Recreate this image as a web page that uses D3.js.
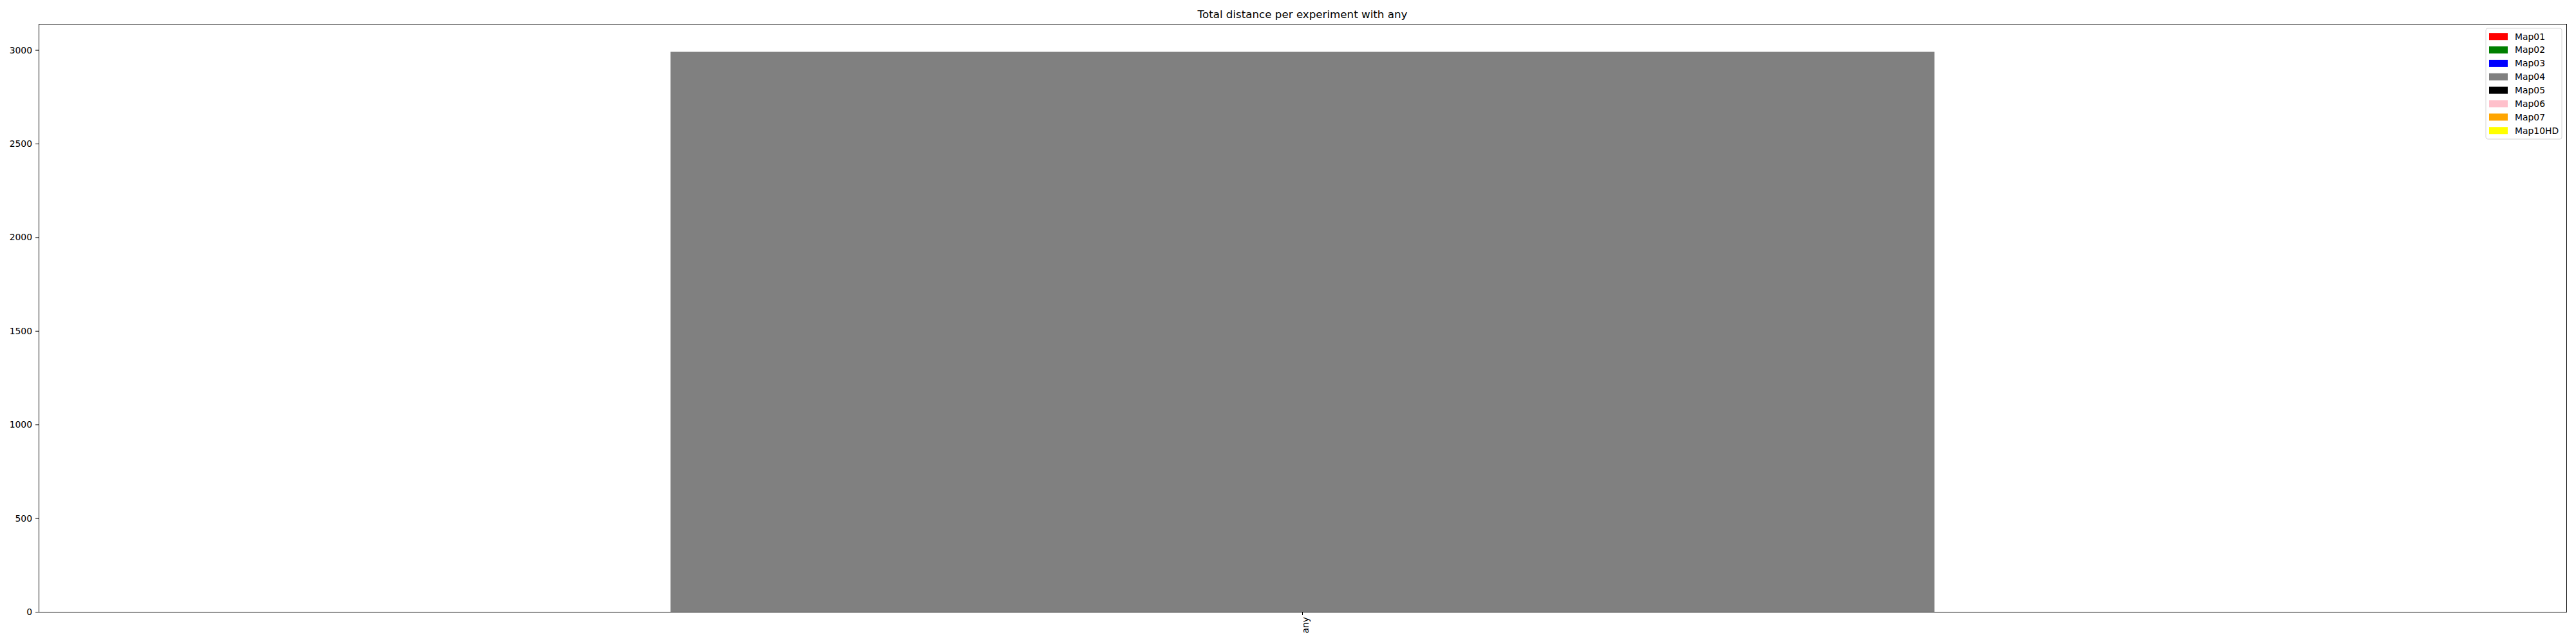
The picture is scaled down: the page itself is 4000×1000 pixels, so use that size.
<!DOCTYPE html>
<html>
<head>
<meta charset="utf-8">
<script src="https://cdn.jsdelivr.net/npm/d3@7"></script>
<style>
  body { margin: 0; background: #fff; }
  text { font-family: "DejaVu Sans", sans-serif; fill: #000; }
</style>
</head>
<body>
<div class="bar-chart-container"></div>
<script>
// data
const experiments = ['any'];
const maps = ['Map01', 'Map02', 'Map03', 'Map04', 'Map05', 'Map06', 'Map07', 'Map10HD'];
const mapColors = ['red', 'green', 'blue', 'grey', 'black', 'pink', 'orange', 'yellow'];
// total distance per map for experiment "any" (only Map04 has a value)
const distanceAny = [0, 0, 0, 2990, 0, 0, 0, 0];
const yTicks = [0, 500, 1000, 1500, 2000, 2500, 3000];

const svg_width = 4000;
const svg_height = 1000;
const chart_margin = {top: 37, right: 15, bottom: 50, left: 60};
const chart_width = svg_width - (chart_margin.left + chart_margin.right);
const chart_height = svg_height - (chart_margin.top + chart_margin.bottom);

// table for stacking
const table = experiments.map(e => {
    const row = {experiment: e};
    maps.forEach((m, i) => row[m] = distanceAny[i]);
    return row;
});
const stacked = d3.stack().keys(maps)(table);

const svg = d3.select('.bar-chart-container').append('svg')
    .attr('width', svg_width).attr('height', svg_height);
const g = svg.append('g')
    .attr('transform', `translate(${chart_margin.left},${chart_margin.top})`);

// scales
const xScale = d3.scaleBand().domain(experiments)
    .range([0, chart_width])
    .paddingInner(0.5).paddingOuter(0.25);
const yMax = d3.max(stacked[stacked.length - 1], d => d[1]) * 1.05;
const yScale = d3.scaleLinear().domain([0, yMax]).range([chart_height, 0]);
const color = d3.scaleOrdinal().domain(maps).range(mapColors);

// bars
g.selectAll('.layer')
    .data(stacked)
    .enter().append('g')
    .attr('class', 'layer')
    .attr('fill', d => color(d.key))
    .selectAll('rect')
    .data(d => d)
    .enter().append('rect')
    .attr('x', d => xScale(d.data.experiment))
    .attr('y', d => yScale(d[1]))
    .attr('width', xScale.bandwidth())
    .attr('height', d => yScale(d[0]) - yScale(d[1]));

// axes
const yAxis = d3.axisLeft(yScale).tickValues(yTicks).tickFormat(d3.format('d'))
    .tickSize(5).tickPadding(5);
const yAxisDraw = g.append('g').attr('class', 'y axis').call(yAxis);
yAxisDraw.select('.domain').remove();
yAxisDraw.selectAll('text').style('font-size', '13.9px');

const xAxis = d3.axisBottom(xScale).tickSize(5).tickPadding(0);
const xAxisDraw = g.append('g').attr('class', 'x axis')
    .attr('transform', `translate(0,${chart_height})`)
    .call(xAxis);
xAxisDraw.select('.domain').remove();
xAxisDraw.selectAll('text')
    .style('font-size', '13.9px')
    .attr('text-anchor', 'end')
    .attr('dy', '0.35em')
    .attr('transform', 'translate(0,8) rotate(-90)');

// frame
g.append('rect')
    .attr('x', 0.5).attr('y', 0.5)
    .attr('width', chart_width).attr('height', chart_height)
    .attr('fill', 'none').attr('stroke', '#000').attr('stroke-width', 1);

// title
g.append('text')
    .attr('x', chart_width / 2).attr('y', -9)
    .attr('text-anchor', 'middle')
    .style('font-size', '16.7px')
    .text('Total distance per experiment with any');

// legend
const legend = g.append('g')
    .attr('transform', `translate(${chart_width - 125},7)`);
legend.append('rect')
    .attr('width', 118).attr('height', 172)
    .attr('rx', 3)
    .attr('fill', '#fff').attr('fill-opacity', 0.8)
    .attr('stroke', '#d5d5d5');
const items = legend.selectAll('.item')
    .data(maps)
    .enter().append('g')
    .attr('class', 'item')
    .attr('transform', (d, i) => `translate(5,${12.7 + i * 20.86})`);
items.append('rect')
    .attr('x', 0).attr('y', -5.5)
    .attr('width', 29).attr('height', 11)
    .attr('fill', d => color(d));
items.append('text')
    .attr('x', 40).attr('y', 0)
    .attr('dy', '0.35em')
    .style('font-size', '13.9px')
    .text(d => d);
</script>
</body>
</html>
